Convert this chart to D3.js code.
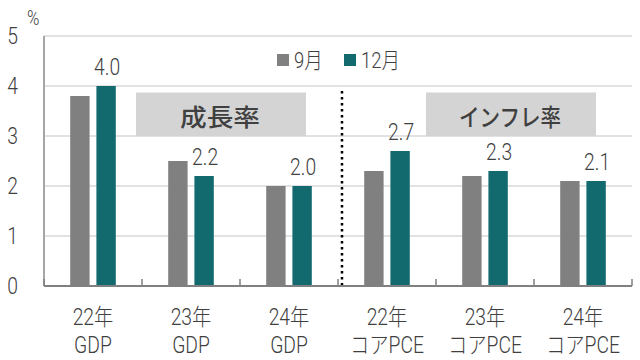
<!DOCTYPE html>
<html>
<head>
<meta charset="utf-8">
<script src="https://cdn.jsdelivr.net/npm/d3@7"></script>
<style>
  body { margin: 0; background: #fff; }
  svg text { font-family: Roboto, "Noto Sans CJK JP", sans-serif; font-weight: 300; fill: #404040; }
</style>
</head>
<body>
<div id="chart"></div>
<script>
var years = ['22年', '23年', '24年', '22年', '23年', '24年'],
    items = ['GDP', 'GDP', 'GDP', 'コアPCE', 'コアPCE', 'コアPCE'],
    seriesNames = ['9月', '12月'],
    sep = [3.8, 2.5, 2.0, 2.3, 2.2, 2.1],
    dec = [4.0, 2.2, 2.0, 2.7, 2.3, 2.1],
    yTicks = [0, 1, 2, 3, 4, 5],
    groupLabels = ['成長率', 'インフレ率'];

var width = 640, height = 360,
    mLeft = 44, mRight = 632, mTop = 36, mBottom = 286,
    squeeze = 0.84,
    colors = ['#808080', '#136a6e'];

var svg = d3.select('#chart').append('svg').attr('width', width).attr('height', height),
    idx = d3.range(years.length);

var x = d3.scaleBand().domain(idx).range([mLeft, mRight]),
    inner = d3.scaleBand().domain([0, 1]).range([0, x.bandwidth()]).paddingInner(0.26).paddingOuter(1.0),
    y = d3.scaleLinear().domain([0, 5]).range([mBottom, mTop]);

// condensed look: squeeze text horizontally around its x
function narrow(sel) {
  sel.each(function() {
    var t = d3.select(this), tx = +t.attr('x');
    t.attr('x', tx / squeeze).attr('transform', 'scale(' + squeeze + ',1)');
  });
}

// gridlines
svg.append('g').selectAll('line').data(yTicks.slice(1)).join('line')
  .attr('x1', mLeft).attr('x2', mRight)
  .attr('y1', function(d) { return y(d); }).attr('y2', function(d) { return y(d); })
  .attr('stroke', '#d9d9d9').attr('stroke-width', 1.5);

// y axis
svg.append('line').attr('x1', mLeft).attr('x2', mLeft).attr('y1', mTop).attr('y2', mBottom)
  .attr('stroke', '#a6a6a6').attr('stroke-width', 2);
svg.append('g').selectAll('text').data(yTicks).join('text')
  .attr('x', 18).attr('y', function(d) { return y(d); })
  .attr('text-anchor', 'end').attr('dominant-baseline', 'central')
  .style('font-size', '23px')
  .text(function(d) { return d; })
  .call(narrow);

svg.append('text').attr('x', 27).attr('y', 25).style('font-size', '20px').text('%').call(narrow);

// group annotation boxes
var boxes = [{ x0: x(1) - 6, label: groupLabels[0], fit: 80 }, { x0: x(4) - 10, label: groupLabels[1], fit: 102 }];
var bg = svg.append('g').selectAll('g').data(boxes).join('g');
bg.append('rect')
  .attr('x', function(d) { return d.x0; }).attr('y', y(3.87))
  .attr('width', 170).attr('height', y(3.0) - y(3.87))
  .attr('fill', '#d4d4d4');
bg.append('text')
  .attr('x', function(d) { return d.x0 + 84; }).attr('y', (y(3.87) + y(3.0)) / 2 + 1)
  .attr('text-anchor', 'middle').attr('dominant-baseline', 'central')
  .attr('textLength', function(d) { return d.fit; }).attr('lengthAdjust', 'spacingAndGlyphs')
  .style('font-family', '"Noto Sans CJK JP", sans-serif')
  .style('font-size', '24px').style('font-weight', 500)
  .text(function(d) { return d.label; });

// bars
var series = [sep, dec];
series.forEach(function(vals, s) {
  svg.append('g').selectAll('rect').data(vals).join('rect')
    .attr('x', function(d, i) { return x(i) + inner(s); })
    .attr('y', function(d) { return y(d); })
    .attr('width', inner.bandwidth())
    .attr('height', function(d) { return y(0) - y(d); })
    .attr('fill', colors[s]);
});

// value labels on 12月
svg.append('g').selectAll('text').data(dec).join('text')
  .attr('x', function(d, i) { return x(i) + inner(1) + inner.bandwidth() / 2 + 1; })
  .attr('y', function(d) { return y(d) - 11; })
  .attr('text-anchor', 'middle').style('font-size', '23px')
  .text(function(d) { return d3.format('.1f')(d); })
  .call(narrow);

// dotted separator
svg.append('line')
  .attr('x1', x(3) + 4).attr('x2', x(3) + 4)
  .attr('y1', y(3.9)).attr('y2', mBottom)
  .attr('stroke', '#000').attr('stroke-width', 2.5).attr('stroke-dasharray', '2.5,3.5');

// x axis
var xg = svg.append('g');
xg.append('line').attr('x1', mLeft).attr('x2', mRight).attr('y1', mBottom).attr('y2', mBottom)
  .attr('stroke', '#808080').attr('stroke-width', 2);
xg.selectAll('line.tick').data(idx.concat([idx.length])).join('line').attr('class', 'tick')
  .attr('x1', function(i) { return mLeft + i * x.step(); }).attr('x2', function(i) { return mLeft + i * x.step(); })
  .attr('y1', mBottom - 7).attr('y2', mBottom)
  .attr('stroke', '#808080').attr('stroke-width', 1.5);
xg.selectAll('text.yr').data(idx).join('text').attr('class', 'yr')
  .attr('x', function(i) { return x(i) + x.bandwidth() / 2; }).attr('y', 325)
  .attr('text-anchor', 'middle').style('font-size', '23px')
  .text(function(i) { return years[i]; })
  .call(narrow);
xg.selectAll('text.it').data(idx).join('text').attr('class', 'it')
  .attr('x', function(i) { return x(i) + x.bandwidth() / 2; }).attr('y', 353)
  .attr('text-anchor', 'middle').style('font-size', '23px')
  .text(function(i) { return items[i]; })
  .call(narrow);

// legend
var lg = svg.append('g').selectAll('g').data(seriesNames).join('g')
  .attr('transform', function(d, i) { return 'translate(' + (277 + i * 67) + ',0)'; });
lg.append('rect').attr('x', 0).attr('y', 54).attr('width', 12).attr('height', 12)
  .attr('fill', function(d, i) { return colors[i]; });
lg.append('text').attr('x', 17).attr('y', 68).style('font-size', '22px')
  .text(function(d) { return d; })
  .call(narrow);
</script>
</body>
</html>
